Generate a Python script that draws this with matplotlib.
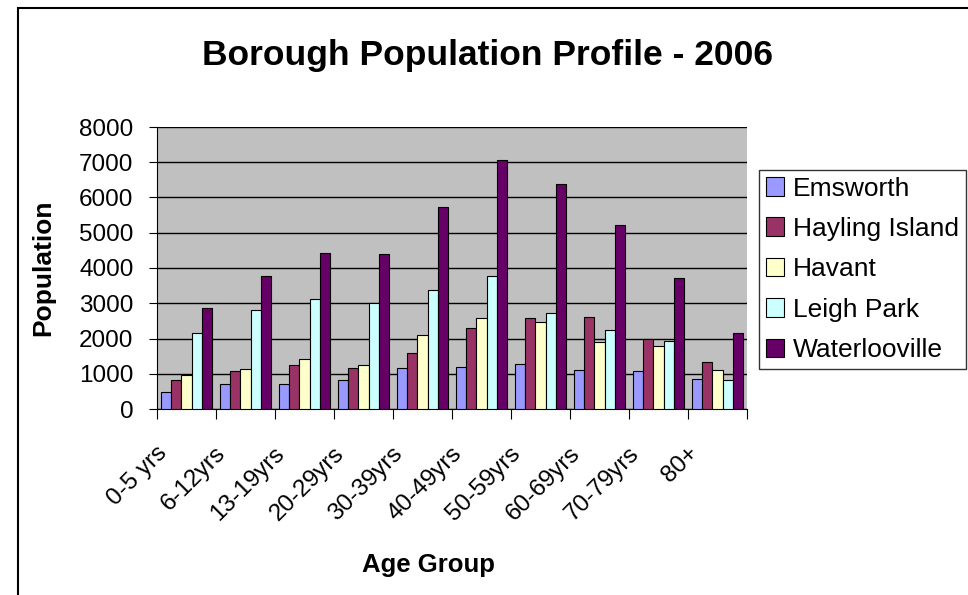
import matplotlib.pyplot as plt
import numpy as np
from matplotlib.patches import Rectangle
from matplotlib.transforms import ScaledTranslation

plt.rcParams['font.family'] = ['Liberation Sans', 'DejaVu Sans']

age_groups = ['0-5 yrs', '6-12yrs', '13-19yrs', '20-29yrs', '30-39yrs',
              '40-49yrs', '50-59yrs', '60-69yrs', '70-79yrs', '80+']
emsworth = [470, 720, 720, 810, 1170, 1200, 1270, 1110, 1080, 850]
hayling = [810, 1070, 1260, 1160, 1580, 2290, 2570, 2610, 2000, 1330]
havant = [975, 1140, 1430, 1260, 2090, 2570, 2480, 1900, 1780, 1110]
leigh_park = [2160, 2800, 3110, 3020, 3370, 3780, 2730, 2230, 1940, 810]
waterlooville = [2860, 3780, 4420, 4390, 5720, 7050, 6390, 5220, 3720, 2160]

series = [('Emsworth', emsworth, '#9999FF'),
          ('Hayling Island', hayling, '#993366'),
          ('Havant', havant, '#FFFFCC'),
          ('Leigh Park', leigh_park, '#CCFFFF'),
          ('Waterlooville', waterlooville, '#660066')]

fig = plt.figure(figsize=(9.68, 5.95), dpi=100)
ax = fig.add_axes([157/968, 1 - 409/595, 590/968, 282/595])
ax.set_facecolor('#C0C0C0')

x = np.arange(len(age_groups))
w = 0.17
for i, (name, vals, col) in enumerate(series):
    ax.bar(x + (i - 2) * w, vals, w, color=col, edgecolor='black',
           linewidth=0.8, label=name, zorder=3)

ax.set_xlim(-0.5, len(age_groups) - 0.5)
ax.set_ylim(0, 8000)
ax.set_yticks(range(0, 8001, 1000))
ax.yaxis.grid(True, color='black', linewidth=1, zorder=1)
ax.tick_params(axis='y', labelsize=17.5, length=6, pad=11,
               direction='out', color='black')

# category labels, rotated and shifted left of the group centre
ax.set_xticks(np.arange(-0.5, len(age_groups)))
ax.set_xticklabels([])
ax.tick_params(axis='x', length=7, direction='out', color='black')
shift = ax.get_xaxis_transform() + ScaledTranslation(-0.23, -0.41, fig.dpi_scale_trans)
for xi, lab in zip(x, age_groups):
    ax.text(xi, 0, lab, transform=shift, rotation=45, ha='right',
            va='center', rotation_mode='anchor', fontsize=17.5)

for s in ['top', 'right']:
    ax.spines[s].set_visible(False)
ax.spines['left'].set_color('black')
ax.spines['bottom'].set_color('black')

fig.text(487/968, 1 - 55/595, 'Borough Population Profile - 2006',
         ha='center', va='center', fontsize=25.5, fontweight='bold')
fig.text(43/968, 1 - 268/595, 'Population', rotation=90,
         ha='center', va='center', fontsize=19, fontweight='bold')
fig.text(428/968, 1 - 565/595, 'Age Group',
         ha='center', va='center', fontsize=18.5, fontweight='bold')

leg = ax.legend(loc='upper left', bbox_to_anchor=(759/968, 1 - 170/595),
                bbox_transform=fig.transFigure, fontsize=19, frameon=True,
                fancybox=False, edgecolor='black', handlelength=0.7,
                handleheight=0.7, handletextpad=0.35, labelspacing=0.62,
                borderpad=0.25, borderaxespad=0)
leg.get_frame().set_linewidth(1)

fig.patches.append(Rectangle((18/968, -0.05), 1.1, 1 - 8/595 + 0.05,
                             transform=fig.transFigure, fill=False,
                             edgecolor='black', linewidth=1.5))

fig.savefig('out.png', dpi=100)
